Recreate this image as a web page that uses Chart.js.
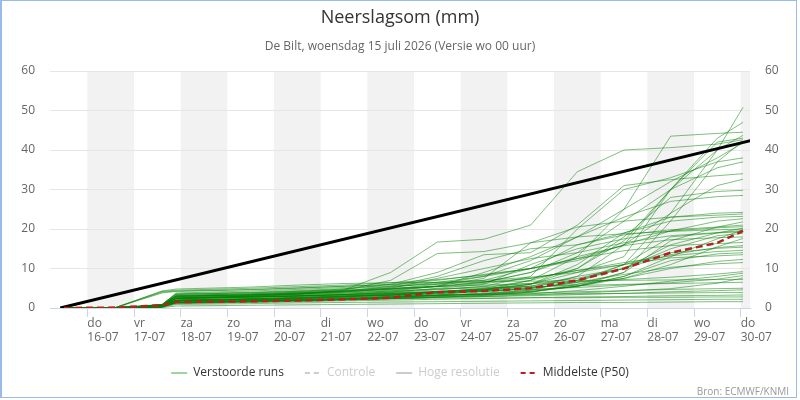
<!DOCTYPE html>
<html><head><meta charset="utf-8">
<script src="https://cdn.jsdelivr.net/npm/chart.js@4.4.1/dist/chart.umd.min.js"></script>
<style>html,body{margin:0;padding:0;background:#fff}#wrap{width:800px;height:400px}</style>
</head><body><div id="wrap"><canvas id="c" width="800" height="400"></canvas></div>
<script>
const titleText = 'Neerslagsom (mm)';
const subtitleText = 'De Bilt, woensdag 15 juli 2026 (Versie wo 00 uur)';
const creditsText = 'Bron: ECMWF/KNMI';
const tickPos = [1,2,3,4,5,6,7,8,9,10,11,12,13,14,15];
const tickDays = ['do','vr','za','zo','ma','di','wo','do','vr','za','zo','ma','di','wo','do'];
const tickDates = ['16-07','17-07','18-07','19-07','20-07','21-07','22-07','23-07','24-07','25-07','26-07','27-07','28-07','29-07','30-07'];
const shadedDays = [1,3,5,7,9,11,13,15];
const yTicks = [0,10,20,30,40,50,60];
// time in days after 15-07 00:00
const times = [0.5,1.6,2.6,2.9,4.5,5.5,6.5,7.5,8.5,9.5,10.5,11.5,12.5,13.5,14.5,15.05];
const runs = [
 [0,0,0.5,1.8,2.0,2.2,2.5,2.8,3.2,3.6,4.5,7,11,24,40,50.8],
 [0,0,0.6,2.5,2.8,3.0,3.3,3.6,4.2,4.8,6,9,13,30,43,47.0],
 [0,0,0.4,1.5,1.8,2.0,2.3,2.7,3.3,4.5,7,13,25,43.5,44.2,44.5],
 [0,0,0.8,3.0,3.3,3.6,4.0,4.5,5.5,6.5,9,14,22,30,40,43.7],
 [0,0,0.5,2.0,2.3,2.6,3.0,3.4,4,5,7,10,17,30,42,43.0],
 [0,0,0.8,3.2,3.6,4.0,4.6,9,16.7,17.4,21,34.5,40,40.6,41.5,42.6],
 [0,0,0.3,1.2,1.5,1.7,2.0,2.3,2.7,3.2,4,6,9,22,37,42.3],
 [0,0,0.7,2.8,3.2,3.6,4.1,4.8,6,8,12,18,25,32,38,41.8],
 [0,0,0.5,2.2,2.6,3.0,3.4,3.9,4.6,5.5,8,20,30,33,37,38.0],
 [0,0,0.4,1.6,2.0,2.3,2.6,3.0,3.6,4.2,5,8,16,30,35.5,37.0],
 [0,0,0.9,3.5,3.8,4.2,4.8,6,9,13.5,14,21,31,32.5,33.5,34.0],
 [0,0.1,3.8,4.2,4.6,5.0,5.5,6,7,8.5,10,12,16,24,31,32.6],
 [0,0,0.4,1.8,2.1,2.4,2.8,3.3,4.0,4.8,6,10,18,28,29.5,29.8],
 [0,0,0.6,2.6,3.0,3.3,3.7,4.3,5.5,9,13,18,23,27,28.2,28.5],
 [0,0,0.7,3.0,3.3,3.6,4.2,5.5,8,12,15,16,19,23,24,24.2],
 [0,0,0.6,2.5,3.0,3.5,4.5,7,13.8,14.3,16.5,20.5,22,23,23.5,23.8],
 [0,0,0.4,1.9,2.2,2.5,2.9,3.3,3.9,4.5,6,11,19,22,23,23.2],
 [0,0,0.8,3.0,3.4,3.8,4.4,5.2,6.5,8,10,12.5,16,19.5,22,22.6],
 [0,0,0.3,1.4,1.7,1.9,2.2,2.6,3.1,3.6,4.2,5.5,9,17,20.5,21.8],
 [0,0,0.9,3.6,4.0,4.4,4.9,5.4,6.2,7,10,16,18.5,19.8,20.5,21.0],
 [0,0,0.5,2.3,2.7,3.0,3.4,4.0,5,6,11,15,17.5,19.5,20.3,20.6],
 [0,0,0.5,2.0,2.4,2.7,3.0,3.5,4.1,4.6,5.5,8,10,16,19,20.2],
 [0,0,0.8,3.2,3.6,3.9,4.3,4.9,5.6,7.5,16.5,18,18.8,19.4,19.8,20.0],
 [0,0,0.3,1.3,1.6,1.9,2.2,2.5,2.9,3.3,4,5.5,8,13,17.5,19.8],
 [0,0,0.6,2.7,3.1,3.5,4.0,5,7.5,10,12.5,14,16.5,18.3,19.1,19.6],
 [0,0,0.8,3.8,4.3,4.7,5.2,5.6,6,6.6,7.5,9.5,11,18,19,19.3],
 [0,0,0.5,2.0,2.4,2.7,3.1,3.6,4.2,4.8,5.6,7,10,15,18.3,18.9],
 [0,0,0.7,3.0,3.4,3.8,4.3,4.8,5.5,6.5,9,13,15.8,17.3,17.8,18.0],
 [0,0,0.3,1.5,1.8,2.1,2.4,2.8,3.3,3.8,4.5,5.5,7.5,11,15.5,17.6],
 [0,0.1,4.2,4.5,5.0,5.4,5.8,6.4,7.2,8.3,10,12.5,14.5,15.8,16.3,16.6],
 [0,0,0.5,2.4,2.8,3.1,3.5,4.1,4.8,5.4,6.2,7.5,10,13.5,15.3,15.8],
 [0,0,0.4,1.9,2.2,2.5,2.8,3.2,3.8,4.3,5,6.5,11,14,15.1,15.4],
 [0,0,0.7,2.9,3.3,3.7,4.2,4.7,5.4,6.2,7.5,9.5,11.5,13.2,14.3,14.6],
 [0,0,0.3,1.4,1.8,2.0,2.3,2.7,3.1,3.5,4.2,5.5,8,12,13.7,14.0],
 [0,0.1,4.0,4.3,4.7,5.1,5.5,5.9,6.5,7,7.8,9,11,12.7,13.2,13.5],
 [0,0,0.5,2.4,2.8,3.1,3.4,3.8,4.2,4.6,5.2,6,7.5,10,11.8,12.3],
 [0,0,0.4,1.9,2.3,2.6,2.9,3.3,3.7,4.2,4.9,6.5,8.5,10.3,11.2,11.5],
 [0,0,0.8,3.4,3.9,4.2,4.6,5,5.4,5.8,6.2,6.6,7.2,7.8,8.6,9.2],
 [0,0,0.3,1.4,1.7,1.9,2.2,2.5,2.8,3.1,3.6,4.4,5.5,6.8,8,8.8],
 [0,0,0.6,2.4,2.9,3.1,3.4,3.7,4,4.3,4.7,5.2,5.8,6.4,7.3,8.2],
 [0,0,0.3,1.4,1.7,1.9,2.1,2.4,2.7,2.9,3.3,3.8,4.3,4.9,6.3,7.6],
 [0,0.1,4.3,4.8,5.3,5.8,6.2,6.4,6.5,6.7,6.8,6.9,7,7.1,7.2,7.2],
 [0,0,0.6,2.5,3.0,3.4,3.8,4.3,4.8,5.1,5.4,5.7,6,6.2,6.4,6.5],
 [0,0,0.4,1.9,2.2,2.4,2.7,2.9,3.2,3.5,3.8,4.1,4.4,4.7,4.9,5.0],
 [0,0,0.3,1.4,1.7,1.9,2.1,2.4,2.7,2.9,3.1,3.4,3.7,4.1,4.4,4.6],
 [0,0,0.6,2.5,2.8,3.0,3.1,3.2,3.3,3.4,3.5,3.6,3.7,3.8,3.9,3.9],
 [0,0,0.3,1.1,1.4,1.6,1.8,2.0,2.2,2.4,2.6,2.8,2.9,3.1,3.2,3.3],
 [0,0,0.5,1.9,2.1,2.2,2.3,2.4,2.5,2.5,2.6,2.6,2.7,2.7,2.8,2.8],
 [0,0,0.2,0.9,1.1,1.3,1.4,1.5,1.6,1.7,1.8,1.9,2.0,2.1,2.2,2.2],
 [0,0,0.1,0.5,0.7,0.8,0.9,1.0,1.1,1.2,1.3,1.4,1.4,1.5,1.6,1.6]
];
const p50 = [0,0.1,0.7,1.5,1.7,1.9,2.2,2.6,4.0,4.3,5.0,7.0,10.0,14.0,16.5,19.5];
const climTimes = [0.42, 15.25];
const clim = [0, 42.5];
const controle = [];
const hogeResolutie = [];

const FONT = "'Open Sans', 'Noto Sans', sans-serif";
const pts = (ts, vs) => vs.map((v, i) => ({x: ts[i], y: v}));

const datasets = [
  {label:'Middelste (P50)', data: pts(times, p50), borderColor:'#b22222', borderWidth:2.5, borderDash:[7,4], pointRadius:0, order:0},
  {label:'Klimatologie', data: pts(climTimes, clim), borderColor:'#000', borderWidth:3, pointRadius:0, order:1},
  {label:'Controle', data: controle, borderColor:'#aaa', borderDash:[4,3], hidden:true, pointRadius:0, order:1},
  {label:'Hoge resolutie', data: hogeResolutie, borderColor:'#888', hidden:true, pointRadius:0, order:1}
];
runs.forEach((r, k) => datasets.push({label: k === 0 ? 'Verstoorde runs' : '', data: pts(times, r),
  borderColor:'rgba(0,128,0,0.5)', borderWidth:1, pointRadius:0, order:2}));

const decor = {
  id:'decor',
  beforeDraw(chart){
    const {ctx, chartArea:a, scales:{x}} = chart;
    ctx.save();
    ctx.fillStyle = '#fff'; ctx.fillRect(0,0,chart.width,chart.height);
    ctx.beginPath(); ctx.rect(a.left, a.top, a.right-a.left, a.bottom-a.top); ctx.clip();
    ctx.fillStyle = '#f2f2f2';
    shadedDays.forEach(d => {
      const x0 = x.getPixelForValue(d), x1 = x.getPixelForValue(d+1);
      ctx.fillRect(x0, a.top, x1-x0, a.bottom-a.top);
    });
    ctx.restore();
  },
  afterDraw(chart){
    const ctx = chart.ctx;
    ctx.save();
    ctx.textAlign = 'center'; ctx.textBaseline = 'middle';
    ctx.fillStyle = '#333'; ctx.font = `18px ${FONT}`;
    ctx.fillText(titleText, 400, 18);
    ctx.fillStyle = '#666'; ctx.font = `12px ${FONT}`;
    ctx.fillText(subtitleText, 400, 47);
    ctx.textAlign = 'right'; ctx.fillStyle = '#999'; ctx.font = `10px ${FONT}`;
    ctx.fillText(creditsText, 789, 392);
    ctx.strokeStyle = '#99bbe8'; ctx.lineWidth = 1;
    ctx.strokeRect(0.5, 0.5, 796, 397);
    ctx.beginPath(); ctx.moveTo(1.5,0); ctx.lineTo(1.5,398); ctx.stroke();
    ctx.restore();
  }
};

new Chart(document.getElementById('c'), {
  type:'line',
  data:{datasets},
  options:{
    responsive:false, animation:false, devicePixelRatio:1,
    layout:{padding:{top:71, bottom:11, left:0, right:0}},
    elements:{line:{tension:0}},
    scales:{
      x:{type:'linear', min:0.2, max:15.2,
        afterBuildTicks: s => { s.ticks = tickPos.map(v => ({value:v})); },
        afterFit: s => { s.height = 38; },
        grid:{drawOnChartArea:false, drawTicks:true, tickLength:9, color:'#ccd6eb'},
        border:{color:'#ccd6eb'},
        ticks:{align:'start', maxRotation:0, autoSkip:false, padding:0, color:'#666',
          font:{family:FONT, size:12, lineHeight:1.17},
          callback: v => { const i = tickPos.indexOf(v); return i < 0 ? '' : [tickDays[i], tickDates[i]]; }}
      },
      y:{position:'left', min:0, max:60,
        afterBuildTicks: s => { s.ticks = yTicks.map(v => ({value:v})); },
        afterFit: s => { s.width = 50; },
        grid:{drawTicks:false, color: c => c.tick && c.tick.value === 0 ? 'rgba(0,0,0,0)' : '#e6e6e6'},
        border:{display:false},
        ticks:{padding:15, color:'#666', font:{family:FONT, size:12}}
      },
      y2:{position:'right', min:0, max:60,
        afterBuildTicks: s => { s.ticks = yTicks.map(v => ({value:v})); },
        afterFit: s => { s.width = 50; },
        grid:{drawOnChartArea:false, drawTicks:false},
        border:{display:false},
        ticks:{padding:15, color:'#666', font:{family:FONT, size:12}}
      }
    },
    plugins:{
      title:{display:false}, tooltip:{enabled:false},
      legend:{position:'bottom', onClick:null,
        labels:{usePointStyle:true, pointStyleWidth:16, padding:21, font:{family:FONT, size:12},
          generateLabels: () => [
            {text:'Verstoorde runs', pointStyle:'line', strokeStyle:'#9fd39f', lineWidth:2, lineDash:[], fontColor:'#333', hidden:false},
            {text:'Controle', pointStyle:'line', strokeStyle:'#cccccc', lineWidth:2, lineDash:[5,4], fontColor:'#cccccc', hidden:false},
            {text:'Hoge resolutie', pointStyle:'line', strokeStyle:'#cccccc', lineWidth:2, lineDash:[], fontColor:'#cccccc', hidden:false},
            {text:'Middelste (P50)', pointStyle:'line', strokeStyle:'#b22222', lineWidth:2, lineDash:[5,4], fontColor:'#333', hidden:false}
          ]}
      }
    }
  },
  plugins:[decor]
});
</script></body></html>
